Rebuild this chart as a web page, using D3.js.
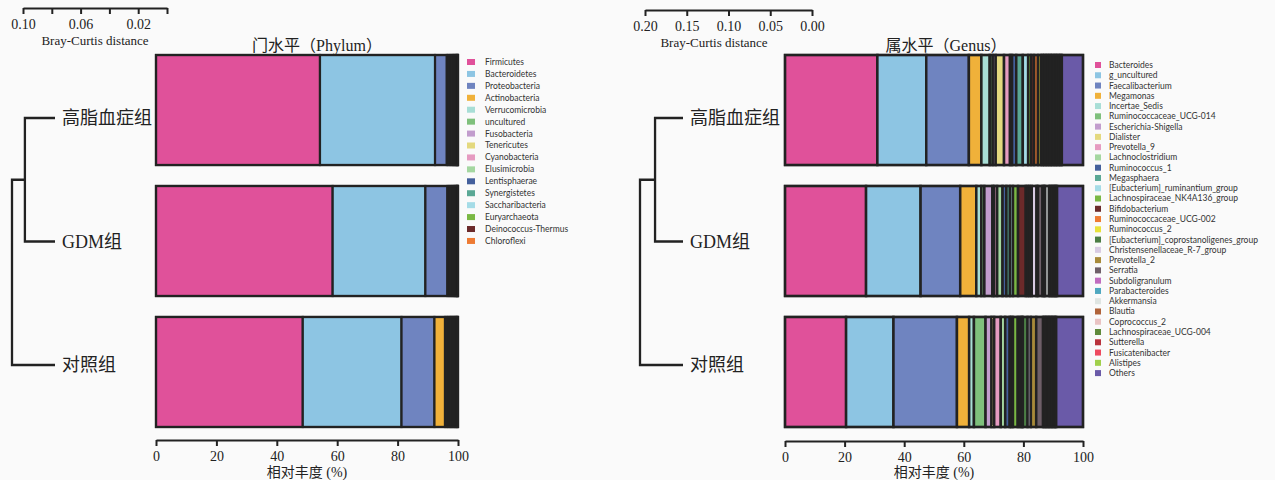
<!DOCTYPE html>
<html>
<head>
<meta charset="utf-8">
<script src="https://cdn.jsdelivr.net/npm/d3@7"></script>
<style>
body { margin: 0; background: #fafafa; }
</style>
</head>
<body>
<script>
const width = 1275
const height = 480

const groups = ["高脂血症组", "GDM组", "对照组"]
const xTicks = [0, 20, 40, 60, 80, 100]

// phylum level
const phylumNames = ["Firmicutes", "Bacteroidetes", "Proteobacteria", "Actinobacteria", "Verrucomicrobia",
    "uncultured", "Fusobacteria", "Tenericutes", "Cyanobacteria", "Elusimicrobia", "Lentisphaerae",
    "Synergistetes", "Saccharibacteria", "Euryarchaeota", "Deinococcus-Thermus", "Chloroflexi"]
const phylumColors = ["#e0519a", "#8dc5e3", "#6f84c0", "#f0b13a", "#a8ded6", "#7fc07c", "#c29dcd", "#e4d97f",
    "#e69bc1", "#a4d7a0", "#44609c", "#5aa895", "#a5dce7", "#7ab844", "#6b2a2a", "#ee7b33"]
const phylumHyper   = [54.3, 38.1, 3.9, 0.5, 0.6, 0.5, 0.4, 0.3, 0.3, 0.3, 0.2, 0.2, 0.2, 0.1, 0.05, 0.05]
const phylumGDM     = [58.5, 30.7, 7.3, 0.6, 0.5, 0.5, 0.4, 0.3, 0.3, 0.2, 0.2, 0.2, 0.1, 0.1, 0.05, 0.05]
const phylumControl = [48.6, 32.7, 10.9, 3.5, 0.6, 0.5, 0.5, 0.4, 0.4, 0.4, 0.4, 0.3, 0.3, 0.2, 0.2, 0.1]
const phylumDistTicks = [0.10, 0.08, 0.06, 0.04, 0.02, 0.00]
const phylumMerge = [0.070, 0.100]

// genus level
const genusNames = ["Bacteroides", "g_uncultured", "Faecalibacterium", "Megamonas", "Incertae_Sedis",
    "Ruminococcaceae_UCG-014", "Escherichia-Shigella", "Dialister", "Prevotella_9", "Lachnoclostridium",
    "Ruminococcus_1", "Megasphaera", "[Eubacterium]_ruminantium_group", "Lachnospiraceae_NK4A136_group",
    "Bifidobacterium", "Ruminococcaceae_UCG-002", "Ruminococcus_2", "[Eubacterium]_coprostanoligenes_group",
    "Christensenellaceae_R-7_group", "Prevotella_2", "Serratia", "Subdoligranulum", "Parabacteroides",
    "Akkermansia", "Blautia", "Coprococcus_2", "Lachnospiraceae_UCG-004", "Sutterella", "Fusicatenibacter",
    "Alistipes", "Others"]
const genusColors = ["#e0519a", "#8dc5e3", "#6f84c0", "#f0b13a", "#a8ded6", "#7fc07c", "#c29dcd", "#e4d97f",
    "#e69bc1", "#a4d7a0", "#44609c", "#5aa895", "#a5dce7", "#7ab844", "#6b2a2a", "#ee7b33", "#e8e23a",
    "#4b7d45", "#d8cbe3", "#a88b3a", "#6e5f68", "#c06cbf", "#4fa8c0", "#dfe5e2", "#b0633a", "#e9c3c3",
    "#5f8a3b", "#b9323c", "#ee4a5f", "#a0d04b", "#6a5aa8"]
const genusHyper   = [31.0, 16.4, 14.3, 4.2, 2.8, 1.0, 1.0, 2.8, 2.0, 0.7, 1.4, 2.2, 1.8, 1.0, 1.0, 1.3, 1.0,
    0.6, 0.5, 0.6, 0.5, 0.6, 0.5, 0.5, 0.6, 0.5, 0.5, 0.6, 0.5, 0.5, 7.1]
const genusGDM     = [27.2, 18.3, 13.3, 5.4, 1.7, 1.0, 2.7, 0.6, 1.0, 1.8, 1.3, 1.2, 1.0, 1.7, 2.6, 0.7, 0.6,
    0.7, 1.6, 0.5, 1.5, 0.5, 0.4, 1.3, 0.5, 0.5, 0.5, 0.4, 0.4, 0.4, 8.7]
const genusControl = [20.5, 15.9, 21.3, 4.1, 1.6, 3.9, 2.0, 0.9, 2.2, 1.5, 1.5, 0.5, 0.6, 1.6, 0.8, 0.6, 0.3,
    1.6, 1.1, 1.8, 2.3, 0.5, 0.5, 0.5, 0.5, 0.5, 0.5, 0.5, 0.5, 0.4, 9.0]
const genusDistTicks = [0.20, 0.15, 0.10, 0.05, 0.00]
const genusMerge = [0.130, 0.200]

const ink = "#222"
const serif = "'Liberation Serif', 'Times New Roman', 'DejaVu Serif', 'Noto Sans CJK SC', serif"

const svg = d3.select("body").append("svg").attr("width", width).attr("height", height)
svg.append("rect").attr("width", width).attr("height", height).attr("fill", "#fafafa")

function drawPanel(p) {
    let x = d3.scaleLinear().domain([0, 100]).range(p.xRange)
    let y = d3.scaleBand().domain(groups).range([55, 427]).paddingInner(0.16).paddingOuter(0)
    let color = d3.scaleOrdinal().domain(p.names).range(p.colors)

    let rows = groups.map((g, i) => {
        let r = {group: g}
        p.names.forEach((n, j) => r[n] = p.values[i][j])
        return r
    })
    let series = d3.stack().keys(p.names)(rows)

    svg.append("g")
      .selectAll("rect")
      .data(groups)
      .join("rect")
        .attr("x", x(0)).attr("y", d => y(d))
        .attr("width", x(100) - x(0)).attr("height", y.bandwidth())
        .attr("fill", ink)

    svg.append("g")
        .attr("stroke", ink)
        .attr("stroke-width", p.stroke)
      .selectAll("g")
      .data(series)
      .join("g")
        .attr("fill", d => color(d.key))
      .selectAll("rect")
      .data(d => d)
      .join("rect")
        .attr("x", d => x(d[0]))
        .attr("y", d => y(d.data.group))
        .attr("width", d => x(d[1]) - x(d[0]))
        .attr("height", y.bandwidth())

    svg.append("g")
      .selectAll("rect")
      .data(groups)
      .join("rect")
        .attr("x", x(0)).attr("y", d => y(d))
        .attr("width", x(100) - x(0)).attr("height", y.bandwidth())
        .attr("fill", "none").attr("stroke", ink).attr("stroke-width", 2.2)

    // bottom axis
    let xAxis = g => g
        .attr("transform", `translate(0,${p.axisY})`)
        .call(d3.axisBottom(x).tickValues(xTicks).tickSize(6).tickSizeOuter(0).tickPadding(5))
        .call(g => g.selectAll("path, line").attr("stroke", ink).attr("stroke-width", 2))
        .call(g => g.selectAll("text").attr("fill", ink).style("font-family", serif).attr("font-size", 14))
    svg.append("g").call(xAxis)

    svg.append("text")
        .attr("x", (x(0) + x(100)) / 2)
        .attr("y", 477)
        .attr("text-anchor", "middle")
        .style("font-family", serif)
        .attr("font-size", 14)
        .attr("fill", ink)
        .text("相对丰度 (%)")

    // title
    svg.append("text")
        .attr("x", p.titleX)
        .attr("y", 51)
        .attr("text-anchor", "middle")
        .style("font-family", serif)
        .attr("font-size", 16)
        .attr("fill", ink)
        .text(p.title)

    // legend
    let legend = svg.append("g")
        .attr("font-family", "Lato, sans-serif")
        .attr("font-size", 8.5)
      .selectAll("g")
      .data(p.names)
      .join("g")
        .attr("transform", (d, i) => `translate(${p.legendX},${p.legendY + i * p.legendStep})`)
    legend.append("rect")
        .attr("x", 0).attr("y", -3)
        .attr("width", p.swatch).attr("height", 6)
        .attr("fill", d => color(d))
    legend.append("text")
        .attr("x", p.textDx)
        .attr("dy", "0.35em")
        .attr("fill", "#333")
        .text(d => d)
}

function drawTree(t) {
    let tx = d3.scaleLinear().domain([0, t.merge[1]]).range([t.leafX, t.rootX])
    let ty = d3.scalePoint().domain(groups).range([118, 365])
    let y0 = ty(groups[0]), y1 = ty(groups[1]), y2 = ty(groups[2])
    let mid = (y0 + y1) / 2

    let path = d3.path()
    path.moveTo(tx(0), y0); path.lineTo(tx(t.merge[0]), y0); path.lineTo(tx(t.merge[0]), y1); path.lineTo(tx(0), y1)
    path.moveTo(tx(t.merge[0]), mid); path.lineTo(tx(t.merge[1]), mid); path.lineTo(tx(t.merge[1]), y2); path.lineTo(tx(0), y2)

    svg.append("path")
        .attr("d", path.toString())
        .attr("fill", "none")
        .attr("stroke", ink)
        .attr("stroke-width", 2.3)

    svg.append("g")
        .style("font-family", serif)
        .attr("font-size", 18)
        .attr("fill", ink)
      .selectAll("text")
      .data(groups)
      .join("text")
        .attr("x", t.leafX + 7)
        .attr("y", d => ty(d))
        .attr("dy", "0.35em")
        .text(d => d)

    // distance scale
    let dx = d3.scaleLinear().domain([t.distTicks[0], 0]).range(t.distRange)
    let distAxis = g => g
        .attr("transform", `translate(0,${t.distY})`)
        .call(d3.axisBottom(dx).tickValues(t.distTicks).tickSize(6).tickSizeOuter(0).tickPadding(5)
            .tickFormat((d, i) => i % t.labelEvery == 0 ? d3.format(".2f")(d) : ""))
        .call(g => g.selectAll("path, line").attr("stroke", ink).attr("stroke-width", 2))
        .call(g => g.selectAll("text").attr("fill", ink).style("font-family", serif).attr("font-size", 14))
    svg.append("g").call(distAxis)

    svg.append("text")
        .attr("x", t.distLabelX)
        .attr("y", t.distY + 37)
        .attr("text-anchor", "middle")
        .style("font-family", serif)
        .attr("font-size", 13)
        .attr("fill", ink)
        .text("Bray-Curtis distance")
}

drawTree({merge: phylumMerge, leafX: 55, rootX: 12, distTicks: phylumDistTicks, distRange: [23, 167],
    distY: 8, labelEvery: 2, distLabelX: 95})
drawTree({merge: genusMerge, leafX: 683, rootX: 640, distTicks: genusDistTicks, distRange: [645, 812],
    distY: 10, labelEvery: 1, distLabelX: 714})

drawPanel({names: phylumNames, colors: phylumColors, values: [phylumHyper, phylumGDM, phylumControl],
    xRange: [156, 458], axisY: 440, title: "门水平（Phylum）", titleX: 317, stroke: 2.2,
    legendX: 467, legendY: 62, legendStep: 11.93, swatch: 8, textDx: 18})
drawPanel({names: genusNames, colors: genusColors, values: [genusHyper, genusGDM, genusControl],
    xRange: [785, 1083], axisY: 441, title: "属水平（Genus）", titleX: 946, stroke: 2.5,
    legendX: 1095, legendY: 65, legendStep: 10.27, swatch: 6, textDx: 14})
</script>
</body>
</html>
